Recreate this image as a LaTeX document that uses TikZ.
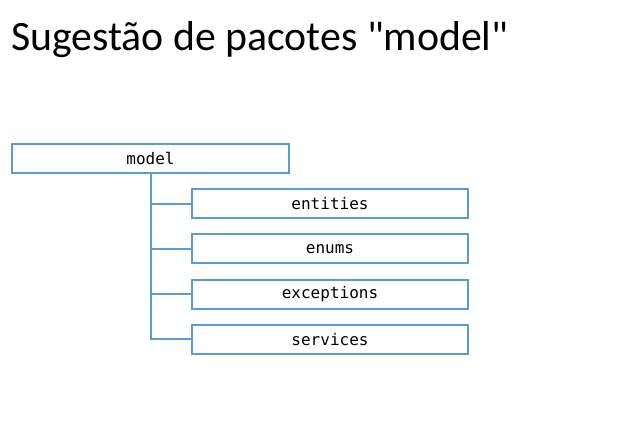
\documentclass[tikz,border=0pt]{standalone}
\usepackage{fontspec}
\setmonofont{DejaVu Sans Mono}
\newfontfamily\titlefont{Carlito}
\usetikzlibrary{positioning}
\definecolor{boxblue}{RGB}{91,155,213}

\begin{document}
\begin{tikzpicture}[x=1pt,y=-1pt,
    pkg/.style={draw=boxblue, line width=2pt, minimum height=29pt, minimum width=276pt,
        inner sep=0pt, font=\fontsize{16}{18}\selectfont\ttfamily},
    link/.style={draw=boxblue, line width=2pt}]
    % fixed page size
    \useasboundingbox (0,0) rectangle (644,433);

    \node[anchor=base west, inner sep=0pt, font=\fontsize{41.8}{48}\selectfont\titlefont] (title) at (11,51)
        {Sugestão de pacotes "model"};

    % root package
    \node[pkg, minimum width=277pt] (model) at (150.5,158.5) {model};

    % sub packages
    \node[pkg] (entities) at (330,203.5) {entities};
    \node[pkg, below=14.3pt of entities] (enums) {enums};
    \node[pkg, below=14.3pt of enums] (exceptions) {exceptions};
    \node[pkg, below=14.3pt of exceptions] (services) {services};

    \foreach \sub in {entities,enums,exceptions,services}
        \draw[link] (model.south) |- (\sub.west);
\end{tikzpicture}
\end{document}
